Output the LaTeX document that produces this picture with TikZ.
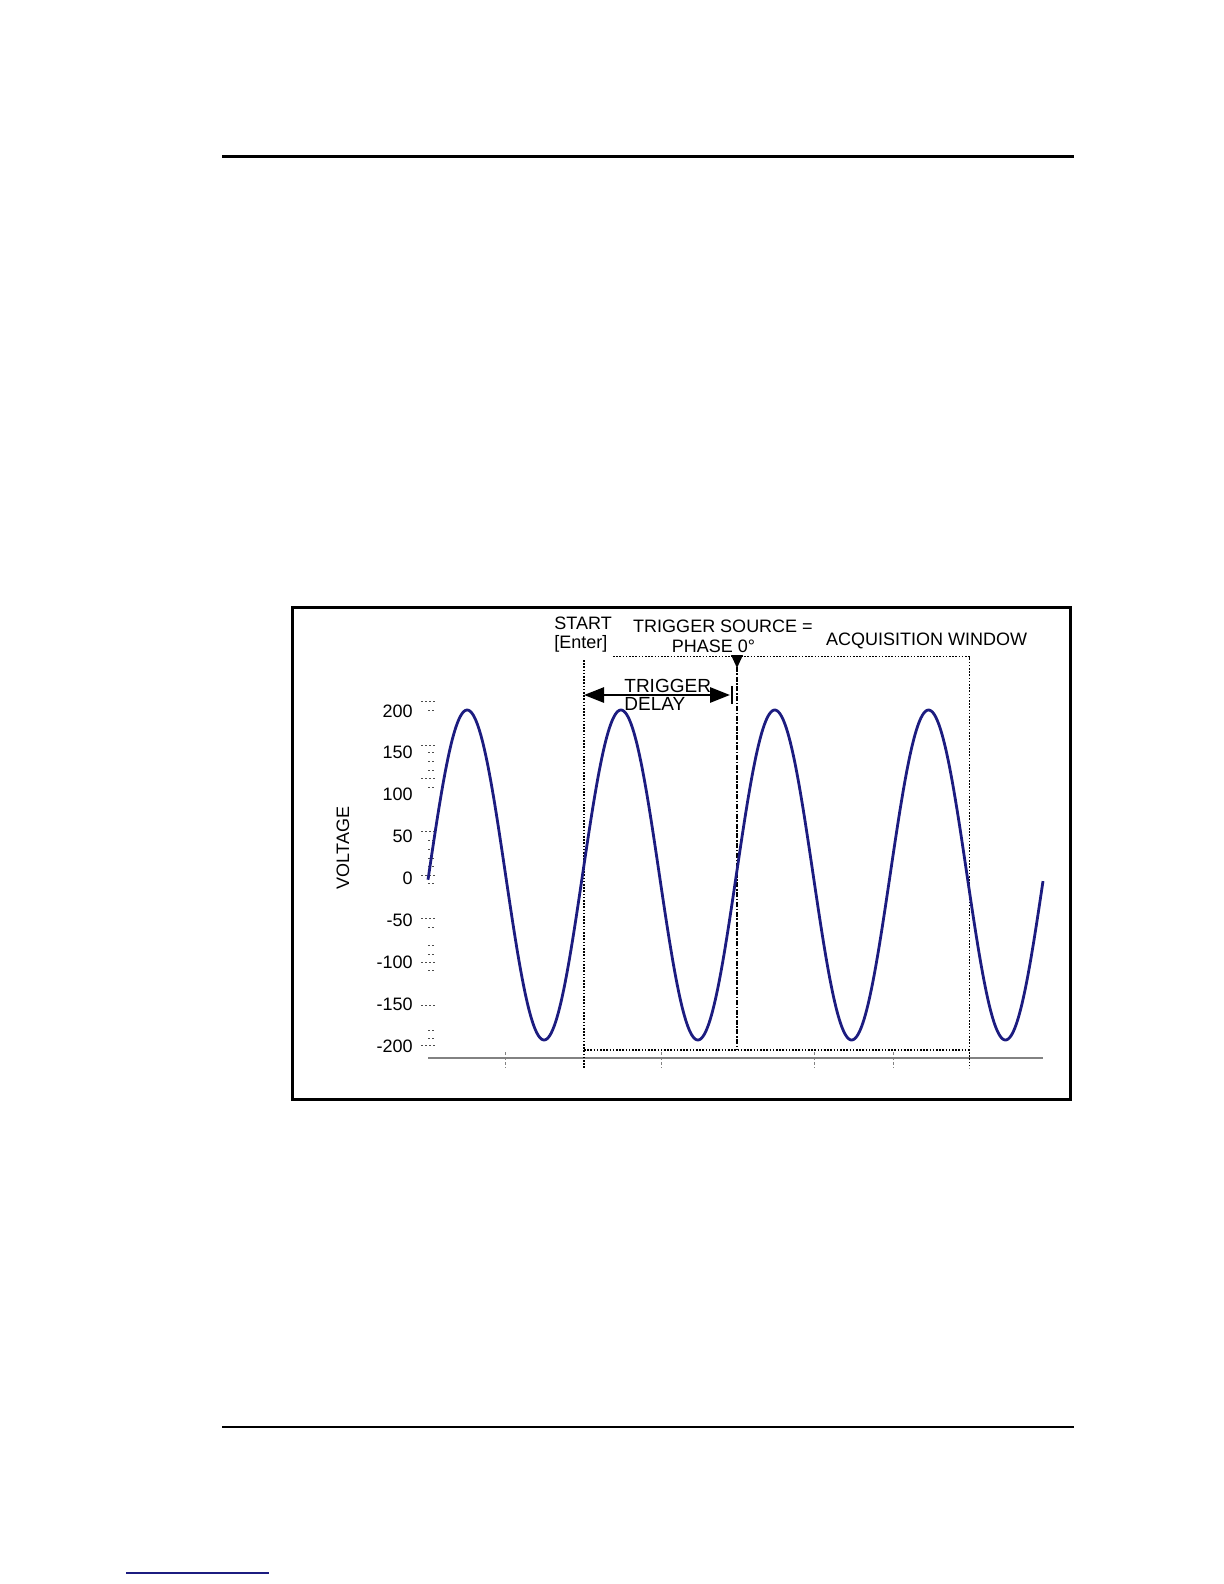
\documentclass[tikz,border=0pt]{standalone}
\usepackage{fontspec}
\setmainfont{Liberation Sans}
\usetikzlibrary{arrows.meta}
\definecolor{wave}{RGB}{28,28,128}
\definecolor{axisgray}{RGB}{130,130,130}
\tikzset{
  lbl/.style={font=\fontsize{9}{10}\selectfont, inner sep=0pt},
  ylbl/.style={lbl, anchor=east},
  win/.style={line width=0.55pt, dash pattern=on 0.8pt off 0.8pt},
  trig/.style={line width=0.8pt, dash pattern=on 2.5pt off 0.8pt on 0.8pt off 0.8pt},
  tickl/.style={axisgray, line width=0.45pt, dash pattern=on 1.5pt off 1pt},
  ymark/.style={black!70, line width=0.4pt, dash pattern=on 1pt off 1pt},
}
\begin{document}
\begin{tikzpicture}[x=0.5pt,y=-0.5pt]
\useasboundingbox (0,0) rectangle (1224,1584);
% page rules
\draw[line width=1.2pt] (222,156.5) -- (1074,156.5);
\draw[line width=0.6pt] (222,1427) -- (1074,1427);
\draw[color=wave, line width=0.7pt] (126,1573) -- (269,1573);
% frame
\draw[line width=1.5pt] (292,607) rectangle (1070,1099);
% axis
\draw[axisgray, line width=0.7pt] (428,1058) -- (1043,1058);
% bottom ticks
\foreach \t in {505,661,814,893} \draw[tickl] (\t,1052) -- (\t,1068);
% y marks
\foreach \m in {701.7,745,778.7,831,875,918.7,962.7,1005,1045.7}
  \draw[ymark] (421,\m) -- (436,\m);
\foreach \m in {710,752.7,761.7,770.7,787.3,840,849.3,858.3,866.7,883.3,927.3,945.7,954,970.7,1030,1038.3}
  \draw[ymark] (428,\m) -- (435,\m);
% y labels
\node[ylbl] (l200) at (413,711) {200};
\node[ylbl] (l150) at (413,752) {150};
\node[ylbl] (l100) at (413,794) {100};
\node[ylbl] (l50) at (413,836) {50};
\node[ylbl] (l0) at (413,878) {0};
\node[ylbl] (lm50) at (413,920) {-50};
\node[ylbl] (lm100) at (413,962) {-100};
\node[ylbl] (lm150) at (413,1004) {-150};
\node[ylbl] (lm200) at (413,1046) {-200};
\node[lbl, rotate=90] (volt) at (343,848) {VOLTAGE};
% acquisition window
\coordinate (wtl) at (613,656.5);
\coordinate (wtr) at (969.5,656.5);
\coordinate (wbr) at (969.5,1068);
\coordinate (wlt) at (584,660);
\coordinate (wlb) at (584,1068);
\coordinate (wbl) at (584,1050);
\coordinate (wbe) at (969.5,1050);
\draw[win] (wtl) -- (wtr) -- (wbr);
\draw[win] (wlt) -- (wlb);
\draw[win] (wbl) -- (wbe);
% trigger line
\coordinate (tt) at (737,657);
\coordinate (tb) at (737,1050);
\draw[trig] (tt) -- (tb);
\fill (731,655) -- (743,655) -- (737,668) -- cycle;
% trigger delay arrow
\coordinate (da) at (584,695);
\coordinate (db) at (730,695);
\draw[line width=1.4pt, {Triangle[length=10pt,width=7.5pt]}-{Triangle[length=10pt,width=7.5pt]}] (da) -- (db);
\draw[line width=1.3pt] (732,686) -- (732,704);
\node[lbl, anchor=west, font=\fontsize{9.5}{10}\selectfont] (trg) at (624,685.5) {TRIGGER};
\node[lbl, anchor=west, font=\fontsize{9.5}{10}\selectfont] (dly) at (624,703.5) {DELAY};
% top texts
\node[lbl, anchor=west] (start) at (554,623) {START};
\node[lbl, anchor=west] (enter) at (554,644) {[Enter]};
\node[lbl] (tsrc) at (723,626) {TRIGGER SOURCE =};
\node[lbl] (phase) at (713.5,646) {PHASE 0°};
\node[lbl] (acq) at (926.6,641) {ACQUISITION WINDOW};
% sine wave
\draw[wave, line width=1.4pt, line join=round] plot[domain=428:1043, samples=500] (\x, {875 - 165*sin((\x-428.7)*2.34070)});
\end{tikzpicture}
\end{document}
